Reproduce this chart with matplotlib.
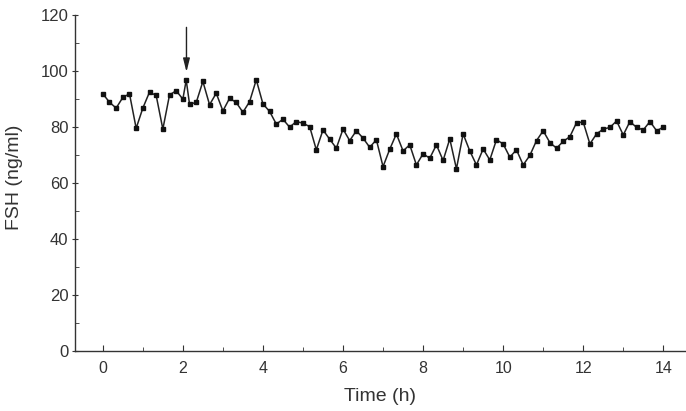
import matplotlib
matplotlib.use("Agg")
import matplotlib.pyplot as plt
from matplotlib.ticker import MultipleLocator

# Sampling times (minutes), every 10 min plus one extra sample right after injection
minutes = [0, 10, 20, 30, 40, 50, 60, 70, 80, 90, 100, 110, 120, 125,
           130, 140, 150, 160, 170, 180, 190, 200, 210, 220, 230, 240,
           250, 260, 270, 280, 290, 300, 310, 320, 330, 340, 350, 360,
           370, 380, 390, 400, 410, 420, 430, 440, 450, 460, 470, 480,
           490, 500, 510, 520, 530, 540, 550, 560, 570, 580, 590, 600,
           610, 620, 630, 640, 650, 660, 670, 680, 690, 700, 710, 720,
           730, 740, 750, 760, 770, 780, 790, 800, 810, 820, 830, 840]

# FSH concentration (ng/ml)
fsh = [91.8, 88.8, 86.7, 90.5, 91.8, 79.5, 86.7, 92.4, 91.2, 79.2, 91.4, 92.9, 89.9, 96.7,
       88.1, 88.7, 96.2, 87.9, 92.0, 85.7, 90.2, 88.7, 85.2, 89.0, 96.8, 88.2,
       85.5, 81.0, 82.7, 79.9, 81.9, 81.3, 80.1, 71.8, 78.9, 75.6, 72.4, 79.2,
       75.1, 78.6, 76.0, 72.7, 75.4, 65.8, 72.0, 77.5, 71.4, 73.6, 66.4, 70.4,
       68.8, 73.6, 68.0, 75.7, 65.0, 77.5, 71.4, 66.4, 72.1, 68.2, 75.4, 73.9,
       69.2, 71.8, 66.4, 69.8, 75.1, 78.6, 74.4, 72.4, 74.8, 76.5, 81.5, 81.7,
       73.9, 77.5, 79.2, 79.8, 82.1, 77.1, 81.9, 79.8, 78.9, 81.9, 78.6, 79.9]

INJECTION_H = 2.09  # arrow position

hours = [m / 60.0 for m in minutes]

plt.rcParams['font.family'] = ['Liberation Sans', 'DejaVu Sans']

fig = plt.figure(figsize=(6.86, 4.11), dpi=100)
ax = fig.add_axes([0.109, 0.146, 0.89, 0.818])

ax.plot(hours, fsh, '-', color='#222222', linewidth=1.1,
        marker='s', markersize=2.4, markerfacecolor='#111111', markeredgecolor='#111111')

# injection arrow
ax.annotate('', xy=(INJECTION_H, 98.6), xytext=(INJECTION_H, 116.5),
            arrowprops=dict(arrowstyle='-|>,head_length=0.8,head_width=0.2',
                            color='#222222', lw=1.0))

ax.set_xlim(-0.7, 14.55)
ax.set_ylim(0, 120)
ax.xaxis.set_major_locator(MultipleLocator(2))
ax.xaxis.set_minor_locator(MultipleLocator(1))
ax.yaxis.set_major_locator(MultipleLocator(20))
ax.yaxis.set_minor_locator(MultipleLocator(10))

for side in ['top', 'right']:
    ax.spines[side].set_visible(False)
for side in ['left', 'bottom']:
    ax.spines[side].set_color('#333333')
    ax.spines[side].set_linewidth(1.0)

ax.tick_params(axis='x', which='major', direction='in', length=4, pad=7,
               labelsize=11.5, colors='#333333')
ax.tick_params(axis='x', which='minor', direction='in', length=3, colors='#333333')
ax.tick_params(axis='y', which='major', direction='inout', length=5, pad=2,
               labelsize=12, colors='#333333')
ax.tick_params(axis='y', which='minor', direction='in', length=3, colors='#333333')

ax.set_xlabel('Time (h)', fontsize=14, color='#333333')
ax.set_ylabel('FSH (ng/ml)', fontsize=14, color='#333333')
ax.xaxis.set_label_coords(0.5, -0.11)
ax.yaxis.set_label_coords(-0.085, 0.518)

fig.savefig('out.png', dpi=100)
